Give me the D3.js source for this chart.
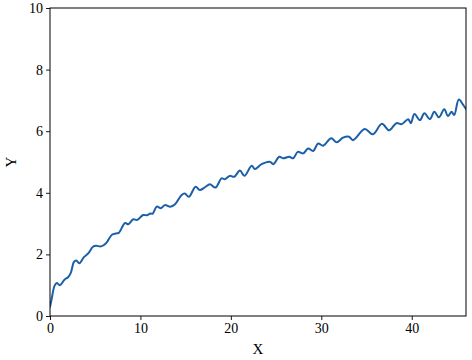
<!DOCTYPE html>
<html>
<head>
<meta charset="utf-8">
<script src="https://cdn.jsdelivr.net/npm/d3@7"></script>
<style>
  html, body { margin: 0; padding: 0; background: #fff; }
  svg { display: block; }
  text { font-family: "Liberation Serif", "Times New Roman", serif; fill: #000; }
</style>
</head>
<body>
<svg id="chart" width="472" height="360"></svg>
<script>
const xValues = [0, 0.15, 0.5, 0.75, 1.1, 1.6, 2.0, 2.3, 2.65, 2.9, 3.25, 3.75, 4.25, 4.75, 5.1, 5.65, 6.2, 6.85, 7.3, 7.6,
  8.3, 8.65, 9.2, 9.65, 10.3, 10.75, 11.1, 11.35, 11.8, 12.27, 12.7, 13.3, 13.8, 14.55, 14.9, 15.36, 16.1, 16.57, 17.13, 17.68,
  18.3, 18.97, 19.34, 19.89, 20.37, 21.0, 21.5, 22.3, 22.65, 23.4, 24.3, 24.7, 25.35, 25.8, 26.45, 26.9, 27.4, 28.0, 28.55, 29.1,
  29.65, 30.2, 31.1, 31.7, 32.4, 33.07, 33.5, 34.8, 35.7, 36.7, 37.5, 38.3, 38.9, 39.6, 39.9, 40.3, 40.9, 41.4, 42.0, 42.5,
  43.0, 43.6, 44.0, 44.4, 44.7, 45.2, 45.7, 46.0];
const yValues = [0.3, 0.5, 0.98, 1.07, 1.0, 1.18, 1.26, 1.4, 1.76, 1.8, 1.71, 1.91, 2.04, 2.25, 2.28, 2.26, 2.36, 2.64, 2.68, 2.7,
  3.02, 2.98, 3.14, 3.12, 3.28, 3.27, 3.33, 3.32, 3.55, 3.5, 3.6, 3.55, 3.62, 3.93, 3.98, 3.87, 4.2, 4.09, 4.18, 4.28,
  4.17, 4.47, 4.44, 4.55, 4.52, 4.72, 4.55, 4.88, 4.77, 4.93, 5.01, 4.93, 5.17, 5.12, 5.17, 5.12, 5.33, 5.28, 5.44, 5.36,
  5.6, 5.53, 5.77, 5.64, 5.79, 5.82, 5.71, 6.07, 5.9, 6.24, 6.03, 6.26, 6.23, 6.39, 6.26, 6.56, 6.36, 6.58, 6.39, 6.63,
  6.45, 6.71, 6.49, 6.63, 6.53, 7.03, 6.85, 6.72];
const xTicks = [0, 10, 20, 30, 40];
const yTicks = [0, 2, 4, 6, 8, 10];
const xLabel = "X";
const yLabel = "Y";

const margin = { left: 50, right: 6, top: 8, bottom: 44 };
const W = 472, H = 360;
const svg = d3.select("#chart");
const iw = W - margin.left - margin.right;
const ih = H - margin.top - margin.bottom;

const x = d3.scaleLinear().domain([0, 46]).range([margin.left, margin.left + iw]);
const y = d3.scaleLinear().domain([0, 10]).range([margin.top + ih, margin.top]);

svg.append("defs").append("clipPath").attr("id", "clip")
  .append("rect").attr("x", margin.left).attr("y", margin.top).attr("width", iw).attr("height", ih);

const data = xValues.map((v, i) => [v, yValues[i]]);
const line = d3.line().x(d => x(d[0])).y(d => y(d[1])).curve(d3.curveCatmullRom.alpha(0.5));

svg.append("path").datum(data)
  .attr("clip-path", "url(#clip)")
  .attr("d", line)
  .attr("fill", "none")
  .attr("stroke", "#1b5fa8")
  .attr("stroke-width", 2)
  .attr("stroke-linejoin", "round")
  .attr("stroke-linecap", "round");

const xAxis = svg.append("g").attr("transform", `translate(0,${margin.top + ih})`)
  .call(d3.axisBottom(x).tickValues(xTicks).tickFormat(d3.format("d")).tickSize(4).tickPadding(3));
const yAxis = svg.append("g").attr("transform", `translate(${margin.left},0)`)
  .call(d3.axisLeft(y).tickValues(yTicks).tickFormat(d3.format("d")).tickSize(4).tickPadding(3));
[xAxis, yAxis].forEach(g => {
  g.select(".domain").remove();
  g.selectAll("line").attr("stroke", "#000").attr("stroke-width", 0.9);
  g.selectAll("text").attr("font-size", 14).attr("font-family", "Liberation Serif, serif").attr("fill", "#000");
});

svg.append("rect")
  .attr("x", margin.left).attr("y", margin.top).attr("width", iw).attr("height", ih)
  .attr("fill", "none").attr("stroke", "#000").attr("stroke-width", 1);

svg.append("text").attr("x", margin.left + iw / 2).attr("y", 354)
  .attr("text-anchor", "middle").attr("font-size", 15).text(xLabel);
svg.append("text").attr("transform", `translate(16,${margin.top + ih / 2}) rotate(-90)`)
  .attr("text-anchor", "middle").attr("font-size", 15).text(yLabel);
</script>
</body>
</html>
